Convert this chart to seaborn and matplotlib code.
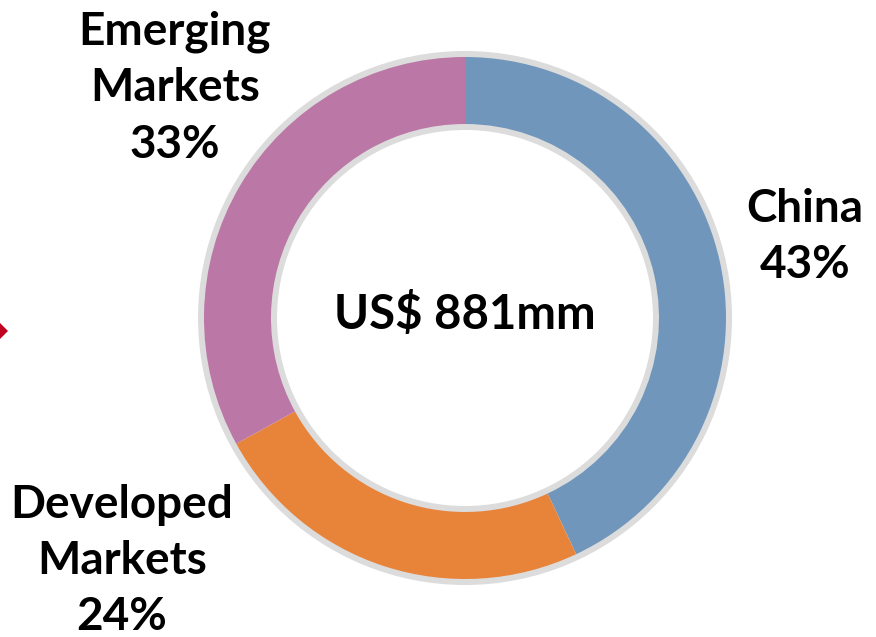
import matplotlib
matplotlib.use("Agg")
import matplotlib.pyplot as plt
from matplotlib.patches import Wedge, Polygon
import seaborn as sns

# Revenue split by region
regions = ["China", "Developed\nMarkets", "Emerging\nMarkets"]
shares = [43, 24, 33]
colors = ["#7096BB", "#E8833A", "#BB77A5"]
total_label = "US$ 881mm"

sns.set_theme(style="white")
plt.rcParams["font.family"] = ["Lato", "DejaVu Sans"]

W, H = 876, 637
fig = plt.figure(figsize=(W / 100, H / 100), dpi=100)
ax = fig.add_axes([0, 0, 1, 1])

cx, cy = 465, 319
r_out, r_in = 261, 194
rim = 6

# Light grey rims around the ring
ax.add_patch(Wedge((cx, cy), r_out + rim, 0, 360, width=rim + 1, facecolor="#DCDCDC", edgecolor="none"))
ax.add_patch(Wedge((cx, cy), r_in + 1, 0, 360, width=rim + 1, facecolor="#DCDCDC", edgecolor="none"))

ax.pie(shares, colors=colors, startangle=90, counterclock=False,
       radius=r_out, center=(cx, cy), frame=True,
       wedgeprops=dict(width=r_out - r_in, edgecolor="none"))
ax.set_xlim(0, W)
ax.set_ylim(0, H)
ax.set_aspect("equal")
ax.axis("off")

# Segment labels
label_pos = {
    "China": (805, 400),
    "Developed\nMarkets": (122, 76),
    "Emerging\nMarkets": (175, 549),
}
for name, val in zip(regions, shares):
    x, y = label_pos[name]
    ax.text(x, y, f"{name}\n{val}%", ha="center", va="center",
            fontsize=33, fontweight="bold", color="black", linespacing=1.42)

ax.text(cx, 322, total_label, ha="center", va="center",
        fontsize=34, fontweight="bold", color="black")

# Red arrow tip at the left margin
ax.add_patch(Polygon([(8, 306), (-6, 320), (-20, 306), (-6, 292)],
                     closed=True, facecolor="#C00020", edgecolor="none"))

fig.savefig("out.png", dpi=100)
